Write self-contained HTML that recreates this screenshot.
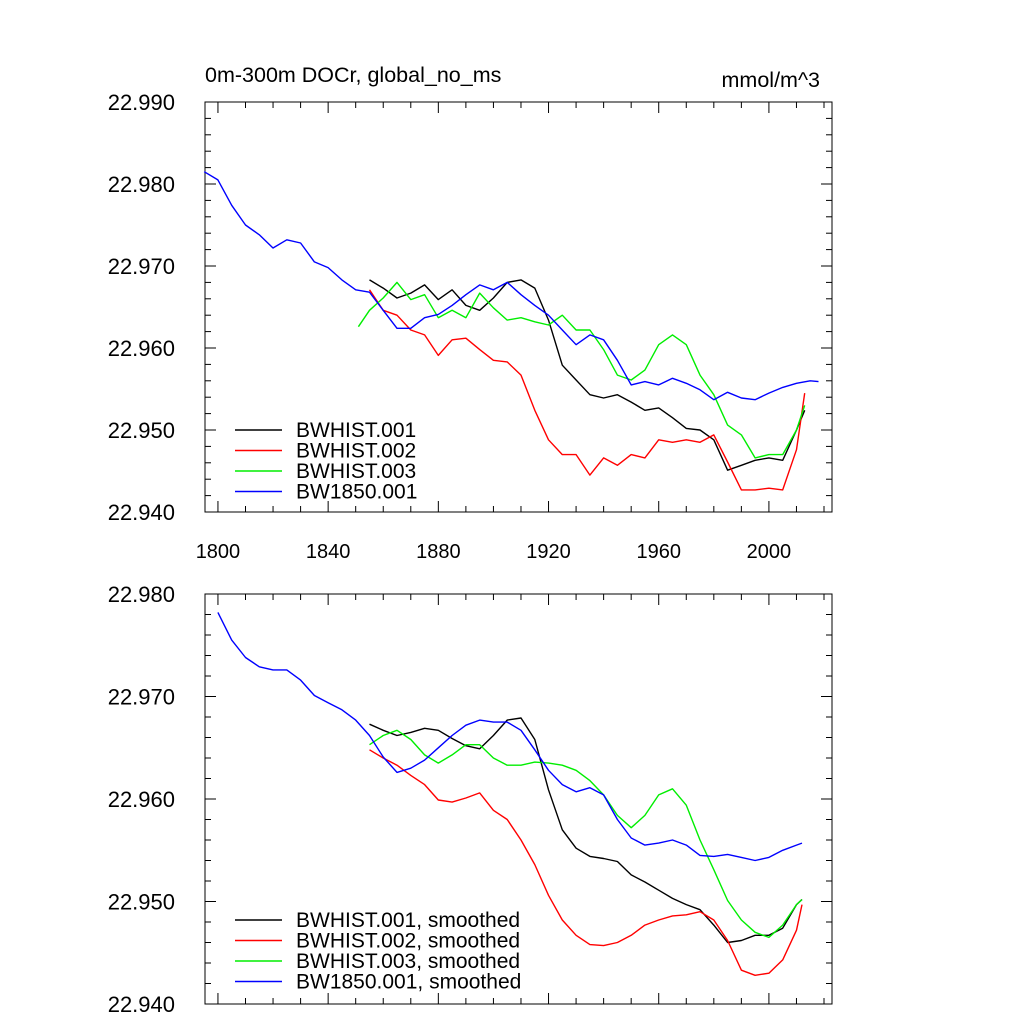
<!DOCTYPE html>
<html><head><meta charset="utf-8"><style>
html,body{margin:0;padding:0;background:#fff}
svg{display:block;font-family:"Liberation Sans",Arial,sans-serif}
</style></head><body>
<svg id="chart" width="1024" height="1024" viewBox="0 0 1024 1024" xmlns="http://www.w3.org/2000/svg">
<text x="205" y="82" font-size="21.5">0m-300m DOCr, global_no_ms</text>
<text x="820" y="87" font-size="21.5" text-anchor="end">mmol/m^3</text>
</svg>
<script>
const topYears5 = [1795,1800,1805,1810,1815,1820,1825,1830,1835,1840,1845,1850,1855,1860,1865,1870,1875,1880,1885,1890,1895,1900,1905,1910,1915,1920,1925,1930,1935,1940,1945,1950,1955,1960,1965,1970,1975,1980,1985,1990,1995,2000,2005,2010,2015,2018];
const topBlue = [22.9815,22.9805,22.9774,22.975,22.9738,22.9722,22.9732,22.9728,22.9705,22.9698,22.9683,22.9671,22.9668,22.9646,22.9624,22.9624,22.9637,22.9641,22.9652,22.9665,22.9677,22.9671,22.968,22.9665,22.9652,22.964,22.9622,22.9604,22.9616,22.961,22.9585,22.9555,22.9559,22.9555,22.9563,22.9557,22.9549,22.9537,22.9546,22.9539,22.9537,22.9545,22.9552,22.9557,22.956,22.9559];
const histYears = [1855,1860,1865,1870,1875,1880,1885,1890,1895,1900,1905,1910,1915,1920,1925,1930,1935,1940,1945,1950,1955,1960,1965,1970,1975,1980,1985,1990,1995,2000,2005,2010,2013];
const topBlack = [22.9683,22.9673,22.9661,22.9667,22.9677,22.9659,22.9671,22.9652,22.9646,22.9661,22.968,22.9683,22.9673,22.9634,22.9579,22.9561,22.9543,22.9539,22.9543,22.9534,22.9524,22.9527,22.9515,22.9502,22.95,22.9488,22.9451,22.9457,22.9463,22.9466,22.9463,22.95,22.9524];
const topRed = [22.9671,22.9646,22.964,22.9622,22.9616,22.9591,22.961,22.9612,22.9598,22.9585,22.9583,22.9567,22.9524,22.9488,22.947,22.947,22.9445,22.9466,22.9457,22.947,22.9466,22.9488,22.9485,22.9488,22.9485,22.9494,22.9461,22.9427,22.9427,22.9429,22.9427,22.9476,22.9545];
const greenYears = [1851,1855,1860,1865,1870,1875,1880,1885,1890,1895,1900,1905,1910,1915,1920,1925,1930,1935,1940,1945,1950,1955,1960,1965,1970,1975,1980,1985,1990,1995,2000,2005,2010,2013];
const topGreen = [22.9626,22.9646,22.9661,22.968,22.9659,22.9665,22.9637,22.9646,22.9637,22.9667,22.9649,22.9634,22.9637,22.9632,22.9628,22.964,22.9622,22.9622,22.9598,22.9567,22.9561,22.9573,22.9604,22.9616,22.9604,22.9567,22.9543,22.9506,22.9494,22.9466,22.947,22.947,22.95,22.953];

const botBlueYears = [1800,1805,1810,1815,1820,1825,1830,1835,1840,1845,1850,1855,1860,1865,1870,1875,1880,1885,1890,1895,1900,1905,1910,1915,1920,1925,1930,1935,1940,1945,1950,1955,1960,1965,1970,1975,1980,1985,1990,1995,2000,2005,2010,2012];
const botBlue = [22.9782,22.9755,22.9738,22.9729,22.9726,22.9726,22.9716,22.9701,22.9694,22.9687,22.9677,22.9662,22.9641,22.9626,22.963,22.9638,22.965,22.9662,22.9672,22.9677,22.9675,22.9675,22.9667,22.9648,22.9628,22.9614,22.9607,22.9611,22.9604,22.958,22.9562,22.9555,22.9557,22.956,22.9555,22.9545,22.9544,22.9546,22.9543,22.954,22.9543,22.955,22.9555,22.9557];
const botYears = [1855,1860,1865,1870,1875,1880,1885,1890,1895,1900,1905,1910,1915,1920,1925,1930,1935,1940,1945,1950,1955,1960,1965,1970,1975,1980,1985,1990,1995,2000,2005,2010,2012];
const botBlack = [22.9673,22.9667,22.9662,22.9665,22.9669,22.9667,22.9659,22.9652,22.9649,22.9662,22.9677,22.9679,22.9658,22.9609,22.957,22.9552,22.9544,22.9542,22.9539,22.9526,22.9519,22.9511,22.9503,22.9497,22.9492,22.9477,22.946,22.9462,22.9467,22.9467,22.9474,22.9497,22.9502];
const botRed = [22.9648,22.964,22.9633,22.9623,22.9614,22.9599,22.9597,22.9601,22.9606,22.9589,22.958,22.956,22.9536,22.9506,22.9482,22.9467,22.9458,22.9457,22.946,22.9467,22.9477,22.9482,22.9486,22.9487,22.949,22.9482,22.9462,22.9433,22.9428,22.943,22.9443,22.9472,22.9497];
const botGreen = [22.9653,22.9662,22.9667,22.9658,22.9643,22.9635,22.9643,22.9653,22.9653,22.964,22.9633,22.9633,22.9636,22.9635,22.9633,22.9628,22.9618,22.9604,22.9584,22.9572,22.9584,22.9604,22.961,22.9594,22.956,22.9531,22.9501,22.9482,22.947,22.9465,22.9477,22.9497,22.9502];

const xTicks = [1800,1840,1880,1920,1960,2000];
const topYTicks = [22.94,22.95,22.96,22.97,22.98,22.99];
const botYTicks = [22.94,22.95,22.96,22.97,22.98];
const topLegend = ["BWHIST.001","BWHIST.002","BWHIST.003","BW1850.001"];
const botLegend = ["BWHIST.001, smoothed","BWHIST.002, smoothed","BWHIST.003, smoothed","BW1850.001, smoothed"];
const colors = ["#000","#f00","#0e0","#00f"];

const NS="http://www.w3.org/2000/svg";
const svg=document.getElementById('chart');
function mk(tag,attrs,parent){const e=document.createElementNS(NS,tag);for(const k in attrs)e.setAttribute(k,attrs[k]);(parent||svg).appendChild(e);return e;}

function panel(cfg){
  const L=205,R=832,T=cfg.top,B=cfg.bottom;
  const x0=1795.3,x1=2022.9;
  const sx=v=>L+(v-x0)/(x1-x0)*(R-L);
  const sy=v=>B-(v-cfg.ymin)/(cfg.ymax-cfg.ymin)*(B-T);
  const g=mk('g',{});
  
  
  const frame=mk('rect',{x:L,y:T,width:R-L,height:B-T,fill:'none',stroke:'#000','stroke-width':1},g);
  
  
  for(let yr=1800;yr<=2020;yr+=10){
    const major=(yr-1800)%40===0; const len=major?11:6; const X=sx(yr);
    const t1=mk('line',{x1:X,x2:X,y1:B,y2:B-len,stroke:'#000'},g);
    
    
    const t2=mk('line',{x1:X,x2:X,y1:T,y2:T+len,stroke:'#000'},g);
    
    
  }
  if(cfg.xlabels){
    xTicks.forEach(v=>{
      const t=mk('text',{x:sx(v),y:B+46,'font-size':20,'text-anchor':'middle'},g);
      t.textContent=v;
      
      
    });
  }
  const nMinor=Math.round((cfg.ymax-cfg.ymin)/0.002);
  for(let i=0;i<=nMinor;i++){
    const v=cfg.ymin+i*0.002; const major=i%5===0; const len=major?11:6; const Y=sy(v);
    const a=mk('line',{x1:L,x2:L+len,y1:Y,y2:Y,stroke:'#000'},g);
    
    
    const b=mk('line',{x1:R,x2:R-len,y1:Y,y2:Y,stroke:'#000'},g);
    
    
  }
  cfg.yticks.forEach(v=>{
    const t=mk('text',{x:175,y:sy(v)+8,'font-size':22,'text-anchor':'end'},g);
    t.textContent=v.toFixed(3);
    
    
  });
  cfg.series.forEach((s,i)=>{
    const d=s.ys.map((v,j)=>(j?'L':'M')+sx(s.xs[j]).toFixed(1)+','+sy(v).toFixed(1)).join('');
    const p=mk('path',{d:d,fill:'none',stroke:s.color,'stroke-width':1.4,'stroke-linejoin':'round'},g);
    
    
  });
  cfg.legend.forEach((lab,i)=>{
    const Y=cfg.legY+i*20.5;
    const l=mk('line',{x1:235,x2:282,y1:Y,y2:Y,stroke:colors[i],'stroke-width':1.4},g);
    
    
    const t=mk('text',{x:296,y:Y+7,'font-size':21},g);
    t.textContent=lab;
    
    
  });
}

panel({name:'top-panel',top:102,bottom:512,ymin:22.94,ymax:22.99,yticks:topYTicks,xlabels:true,legend:topLegend,legY:430,
  series:[{name:'bwhist-001-line',xs:histYears,ys:topBlack,color:colors[0]},
          {name:'bwhist-002-line',xs:histYears,ys:topRed,color:colors[1]},
          {name:'bwhist-003-line',xs:greenYears,ys:topGreen,color:colors[2]},
          {name:'bw1850-001-line',xs:topYears5,ys:topBlue,color:colors[3]}]});
panel({name:'bottom-panel',top:594,bottom:1004,ymin:22.94,ymax:22.98,yticks:botYTicks,xlabels:false,legend:botLegend,legY:920,
  series:[{name:'bwhist-001-smoothed',xs:botYears,ys:botBlack,color:colors[0]},
          {name:'bwhist-002-smoothed',xs:botYears,ys:botRed,color:colors[1]},
          {name:'bwhist-003-smoothed',xs:botYears,ys:botGreen,color:colors[2]},
          {name:'bw1850-001-smoothed',xs:botBlueYears,ys:botBlue,color:colors[3]}]});
</script>
</body></html>
